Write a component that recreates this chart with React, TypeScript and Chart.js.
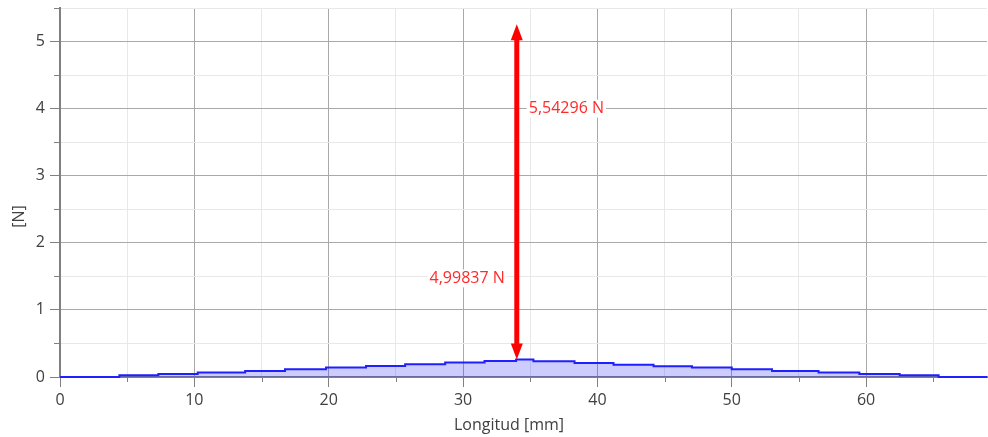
import React, { useEffect, useRef } from 'react';
import { Chart, registerables } from 'chart.js';

Chart.register(...registerables);

// Step load distribution along the length (step start positions in mm, load in N)
const stepStartsMm = [0, 4.42, 7.32, 10.25, 13.78, 16.75, 19.8, 22.78, 25.69, 28.67, 31.6, 33.95, 35.24, 38.3, 41.2, 44.18, 47.04, 50.0, 53.0, 56.46, 59.5, 62.5, 65.4, 69];
const loadN = [0, 0.027, 0.045, 0.066, 0.09, 0.115, 0.14, 0.165, 0.19, 0.215, 0.239, 0.26, 0.234, 0.209, 0.184, 0.16, 0.14, 0.115, 0.09, 0.066, 0.045, 0.025, 0, 0];

// Resultant force arrow
const arrowXmm = 34;
const arrowBaseN = 0.26;
const arrowMagnitudeN = 4.99837;
const arrowLabelTop = '5,54296 N';
const arrowLabelTopY = 4.0;
const arrowLabelBottom = '4,99837 N';
const arrowLabelBottomY = 1.47;

// Axes
const xMin = 0;
const xMax = 69;
const xMinorStep = 5;
const xMajorStep = 10;
const yMin = 0;
const yMax = 5.5;
const yMinorStep = 0.5;
const yMajorStep = 1;
const xTitle = 'Longitud [mm]';
const yTitle = '[N]';

const FONT_FAMILY = '"Open Sans", "Noto Sans", sans-serif';
const TEXT_COLOR = '#404040';
const AXIS_COLOR = '#808080';
const MAJOR_GRID = '#a9a9a9';
const MINOR_GRID = '#e8e8e8';

const isMajor = (v: number, step: number) => Math.abs(v / step - Math.round(v / step)) < 1e-6;

const minorTicksPlugin = {
  id: 'minorTicks',
  afterDraw(chart: any) {
    const { ctx, chartArea } = chart;
    const xs = chart.scales.x;
    const ys = chart.scales.y;
    ctx.save();
    ctx.strokeStyle = AXIS_COLOR;
    ctx.lineWidth = 1;
    ctx.beginPath();
    xs.ticks.forEach((t: any) => {
      if (!isMajor(t.value, xMajorStep)) {
        const px = Math.round(xs.getPixelForValue(t.value)) + 0.5;
        ctx.moveTo(px, chartArea.bottom);
        ctx.lineTo(px, chartArea.bottom + 5);
      }
    });
    ys.ticks.forEach((t: any) => {
      if (!isMajor(t.value, yMajorStep)) {
        const py = Math.round(ys.getPixelForValue(t.value)) + 0.5;
        ctx.moveTo(chartArea.left - 6, py);
        ctx.lineTo(chartArea.left, py);
      }
    });
    ctx.stroke();

    // axis titles
    ctx.fillStyle = TEXT_COLOR;
    ctx.font = `16px ${FONT_FAMILY}`;
    ctx.textAlign = 'center';
    ctx.textBaseline = 'middle';
    ctx.fillText(xTitle, 509, 425);
    ctx.save();
    ctx.translate(19, chart.height / 2 - 2);
    ctx.rotate(-Math.PI / 2);
    ctx.fillText(yTitle, 0, 0);
    ctx.restore();
    ctx.restore();
  },
};

const arrowPlugin = {
  id: 'forceArrow',
  afterDatasetsDraw(chart: any) {
    const { ctx } = chart;
    const xs = chart.scales.x;
    const ys = chart.scales.y;
    const x = xs.getPixelForValue(arrowXmm);
    const yBottom = ys.getPixelForValue(arrowBaseN);
    const yTop = ys.getPixelForValue(arrowBaseN + arrowMagnitudeN);
    const headLen = 16;
    const headHalf = 6;
    ctx.save();
    ctx.strokeStyle = '#ff0000';
    ctx.fillStyle = '#ff0000';
    ctx.lineWidth = 5;
    ctx.beginPath();
    ctx.moveTo(x, yTop + headLen - 2);
    ctx.lineTo(x, yBottom - headLen + 2);
    ctx.stroke();
    // top head
    ctx.beginPath();
    ctx.moveTo(x, yTop);
    ctx.lineTo(x - headHalf, yTop + headLen);
    ctx.lineTo(x + headHalf, yTop + headLen);
    ctx.closePath();
    ctx.fill();
    // bottom head
    ctx.beginPath();
    ctx.moveTo(x, yBottom);
    ctx.lineTo(x - headHalf, yBottom - headLen);
    ctx.lineTo(x + headHalf, yBottom - headLen);
    ctx.closePath();
    ctx.fill();

    // labels with white background
    ctx.font = `16px ${FONT_FAMILY}`;
    ctx.textBaseline = 'middle';
    const drawLabel = (text: string, yVal: number, side: 'left' | 'right') => {
      const w = ctx.measureText(text).width;
      const py = ys.getPixelForValue(yVal);
      const left = side === 'right' ? x + 12 : x - 12 - w;
      ctx.fillStyle = '#ffffff';
      ctx.fillRect(left - 2, py - 9, w + 4, 18);
      ctx.fillStyle = '#ff2a2a';
      ctx.textAlign = 'left';
      ctx.fillText(text, left, py);
    };
    drawLabel(arrowLabelTop, arrowLabelTopY, 'right');
    drawLabel(arrowLabelBottom, arrowLabelBottomY, 'left');
    ctx.restore();
  },
};

export default function App() {
  const canvasRef = useRef<HTMLCanvasElement | null>(null);

  useEffect(() => {
    const canvas = canvasRef.current;
    if (!canvas) return;
    const points = stepStartsMm.map((x, i) => ({ x, y: loadN[i] }));
    const chart = new Chart(canvas, {
      type: 'line',
      data: {
        datasets: [
          {
            data: points,
            stepped: 'before',
            borderColor: '#1f1fff',
            backgroundColor: 'rgba(40, 40, 255, 0.24)',
            borderWidth: 2,
            pointRadius: 0,
            fill: 'origin',
            clip: false as any,
          },
        ],
      },
      options: {
        responsive: false,
        animation: false,
        devicePixelRatio: 1,
        layout: { padding: { top: 8, right: 1, left: 0, bottom: 0 } },
        plugins: {
          legend: { display: false },
          tooltip: { enabled: false },
        },
        scales: {
          x: {
            type: 'linear',
            min: xMin,
            max: xMax,
            afterFit: (scale: any) => {
              scale.height = 60;
              scale.paddingLeft = 0;
              scale.paddingRight = 0;
            },
            ticks: {
              stepSize: xMinorStep,
              includeBounds: false,
              autoSkip: false,
              maxRotation: 0,
              padding: 4,
              color: TEXT_COLOR,
              font: { family: FONT_FAMILY, size: 16 },
              callback: (v: any) => (isMajor(Number(v), xMajorStep) ? String(v) : ''),
            },
            grid: {
              color: (c: any) => (c.tick && isMajor(c.tick.value, xMajorStep) ? MAJOR_GRID : MINOR_GRID),
              tickColor: (c: any) => (c.tick && isMajor(c.tick.value, xMajorStep) ? AXIS_COLOR : 'rgba(0,0,0,0)'),
              tickLength: 10,
              lineWidth: 1,
            },
            border: { color: AXIS_COLOR, width: 2 },
          },
          y: {
            type: 'linear',
            min: yMin,
            max: yMax,
            afterFit: (scale: any) => {
              scale.width = 60;
              scale.paddingTop = 0;
              scale.paddingBottom = 0;
            },
            ticks: {
              stepSize: yMinorStep,
              includeBounds: false,
              autoSkip: false,
              padding: 5,
              color: TEXT_COLOR,
              font: { family: FONT_FAMILY, size: 16 },
              callback: (v: any) => (isMajor(Number(v), yMajorStep) ? String(v) : ''),
            },
            grid: {
              color: (c: any) => (c.tick && isMajor(c.tick.value, yMajorStep) ? MAJOR_GRID : MINOR_GRID),
              tickColor: (c: any) => (c.tick && isMajor(c.tick.value, yMajorStep) ? AXIS_COLOR : 'rgba(0,0,0,0)'),
              tickLength: 10,
              lineWidth: 1,
            },
            border: { color: AXIS_COLOR, width: 2 },
          },
        },
      },
      plugins: [arrowPlugin, minorTicksPlugin],
    });
    return () => chart.destroy();
  }, []);

  return (
    <div style={{ position: 'fixed', left: 0, top: 0, width: 988, height: 437, background: '#ffffff' }}>
      <canvas ref={canvasRef} width={988} height={437} style={{ display: 'block' }} />
    </div>
  );
}
